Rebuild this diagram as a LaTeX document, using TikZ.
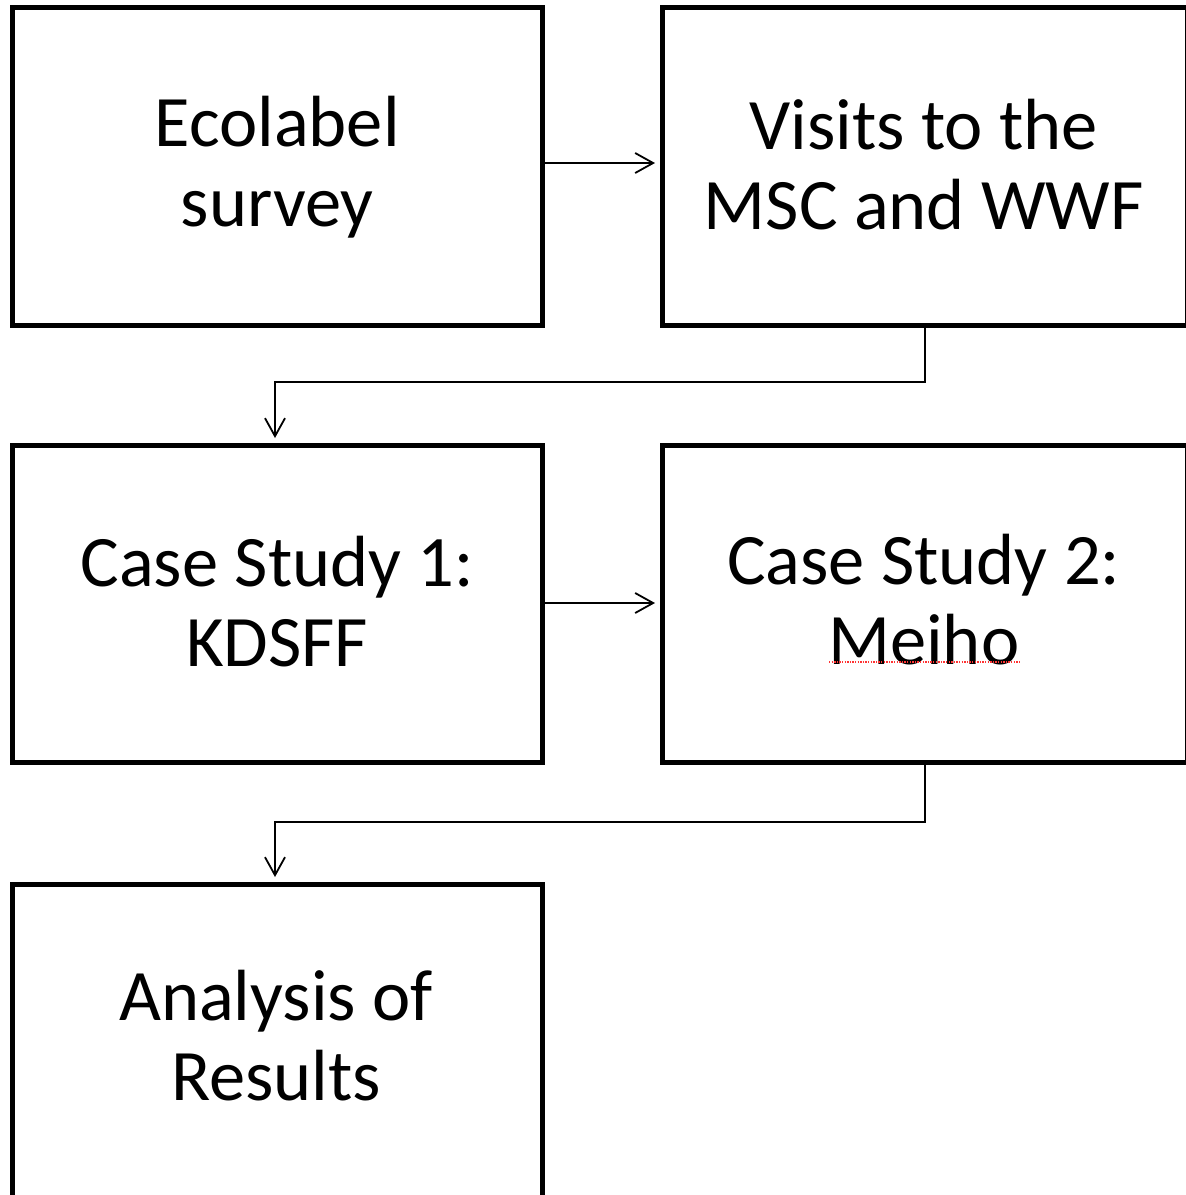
\documentclass[tikz,border=0pt]{standalone}
\usepackage{fontspec}
\setmainfont{Carlito}
\usetikzlibrary{arrows.meta}
\begin{document}
\begin{tikzpicture}[x=1pt,y=-1pt,
  stepbox/.style={draw=black,line width=4.5pt,rectangle,anchor=north west,inner sep=0pt},
  lbl/.style={align=center,font=\fontsize{72.5}{80}\selectfont},
  conn/.style={draw=black,line width=1.8pt,shorten >=5pt,-{Straight Barb[length=18pt,width=20pt,line width=1.8pt]}}]
\useasboundingbox (0,0) rectangle (1186,1195);
\clip (0,0) rectangle (1186,1195);
% boxes
\node[stepbox,minimum width=530pt,minimum height=318pt] (b1) at (10,5) {};
\node[stepbox,minimum width=525pt,minimum height=318pt] (b2) at (660,5) {};
\node[stepbox,minimum width=530pt,minimum height=317pt] (b3) at (10,443) {};
\node[stepbox,minimum width=525pt,minimum height=317pt] (b4) at (660,443) {};
\node[stepbox,minimum width=530pt,minimum height=400pt] (b5) at (10,882) {};
% labels
\node[lbl] (t1) at ([yshift=-1pt]b1.center) {Ecolabel\\survey};
\node[lbl] (t2) at ([xshift=-1pt,yshift=2pt]b2.center) {Visits to the\\MSC and WWF};
\node[lbl] (t3) at ([yshift=2pt]b3.center) {Case Study 1:\\KDSFF};
\node[lbl] (t4) at ([xshift=-1pt,yshift=4pt]b4.center) {Case Study 2:\\Meiho};
\node[lbl] (t5) at (276,1036) {Analysis of\\Results};
% spellcheck underline under Meiho
\coordinate (u1) at (829,662);
\coordinate (u2) at (1020,662);
\draw[red!80,line width=1.3pt,dash pattern=on 1.3pt off 1.3pt] (u1) -- (u2);
% connectors
\draw[conn] (b1.east |- 0,163) -- (b2.west |- 0,163);
\draw[conn] (b2.south -| 925,0) |- (275,382) -- (b3.north -| 275,0);
\draw[conn] (b3.east |- 0,603) -- (b4.west |- 0,603);
\draw[conn] (b4.south -| 925,0) |- (275,822) -- (b5.north -| 275,0);
\end{tikzpicture}
\end{document}
